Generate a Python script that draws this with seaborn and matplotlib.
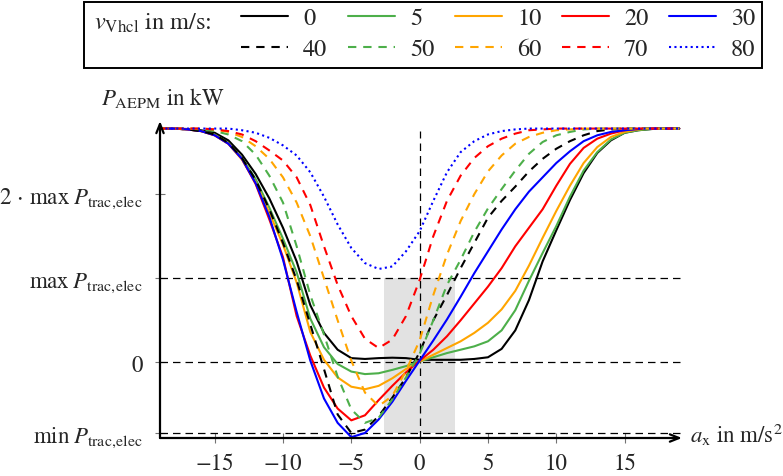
import numpy as np
import pandas as pd
import matplotlib
matplotlib.use("Agg")
import matplotlib.pyplot as plt
import seaborn as sns
from matplotlib.lines import Line2D
from matplotlib.patches import Rectangle

# ---------------- data ----------------
a_x = list(range(-19, 20))  # longitudinal acceleration in m/s^2
speeds = [0, 5, 10, 20, 30, 40, 50, 60, 70, 80]  # v_Vhcl in m/s

# normalised: max P_trac,elec = 1
P_MAX = 1.0
P_MIN = -0.845
shade_x = [-2.6, 2.6]

P_v0 = [2.78, 2.78, 2.775, 2.76, 2.73, 2.64, 2.47, 2.24, 1.95, 1.6, 1.2, 0.68, 0.35, 0.15, 0.05, 0.04, 0.05, 0.055, 0.05,
        0.03,
        0.03, 0.03, 0.03, 0.04, 0.06, 0.16, 0.38, 0.74, 1.2, 1.57, 1.93, 2.25, 2.49, 2.64, 2.73, 2.76, 2.775, 2.78, 2.78]
P_v5 = [2.78, 2.78, 2.77, 2.75, 2.71, 2.61, 2.43, 2.18, 1.84, 1.47, 1.07, 0.52, 0.18, -0.02, -0.11, -0.14, -0.13, -0.09, -0.045,
        0.01,
        0.06, 0.11, 0.15, 0.19, 0.25, 0.38, 0.62, 0.97, 1.3, 1.62, 1.97, 2.28, 2.5, 2.65, 2.73, 2.76, 2.775, 2.78, 2.78]
P_v10 = [2.78, 2.78, 2.77, 2.75, 2.7, 2.6, 2.41, 2.14, 1.78, 1.4, 0.95, 0.36, 0.03, -0.18, -0.29, -0.32, -0.28, -0.19, -0.08,
         0.01,
         0.09, 0.17, 0.25, 0.35, 0.47, 0.63, 0.85, 1.15, 1.48, 1.8, 2.1, 2.37, 2.56, 2.68, 2.74, 2.77, 2.78, 2.78, 2.78]
P_v20 = [2.78, 2.78, 2.77, 2.75, 2.7, 2.6, 2.42, 2.12, 1.7, 1.25, 0.55, 0.08, -0.3, -0.55, -0.69, -0.63, -0.45, -0.28, -0.12,
         0.02,
         0.15, 0.31, 0.5, 0.7, 0.9, 1.12, 1.38, 1.6, 1.82, 2.1, 2.36, 2.55, 2.66, 2.72, 2.76, 2.775, 2.78, 2.78, 2.78]
P_v30 = [2.78, 2.78, 2.77, 2.75, 2.7, 2.6, 2.42, 2.13, 1.73, 1.22, 0.6, 0.02, -0.43, -0.72, -0.89, -0.84, -0.68, -0.47, -0.22,
         0.02,
         0.26, 0.51, 0.78, 1.06, 1.32, 1.58, 1.82, 2.03, 2.2, 2.37, 2.51, 2.63, 2.7, 2.74, 2.76, 2.775, 2.78, 2.78, 2.78]
P_v40 = [2.78, 2.78, 2.77, 2.75, 2.71, 2.61, 2.43, 2.17, 1.82, 1.42, 0.98, 0.45, -0.08, -0.62, -0.84, -0.8, -0.64, -0.42, -0.18,
         0.12,
         0.5, 0.8, 1.12, 1.42, 1.72, 1.92, 2.09, 2.27, 2.42, 2.54, 2.63, 2.7, 2.75, 2.77, 2.78, 2.78, 2.78, 2.78, 2.78]
P_v50 = [2.78, 2.78, 2.78, 2.77, 2.75, 2.71, 2.63, 2.47, 2.22, 1.9, 1.38, 0.8, 0.33, -0.17, -0.56, -0.72, -0.66, -0.44, -0.18,
         0.1,
         0.5, 0.92, 1.22, 1.55, 1.83, 2.06, 2.28, 2.48, 2.62, 2.7, 2.74, 2.77, 2.78, 2.78, 2.78, 2.78, 2.78, 2.78, 2.78]
P_v60 = [2.78, 2.78, 2.78, 2.78, 2.77, 2.74, 2.68, 2.57, 2.42, 2.2, 1.9, 1.5, 1.0, 0.5, 0.02, -0.36, -0.52, -0.4, -0.1,
         0.26,
         0.8, 1.28, 1.68, 2.0, 2.27, 2.46, 2.6, 2.68, 2.73, 2.76, 2.77, 2.78, 2.78, 2.78, 2.78, 2.78, 2.78, 2.78, 2.78]
P_v70 = [2.78, 2.78, 2.78, 2.78, 2.77, 2.75, 2.71, 2.63, 2.52, 2.4, 2.2, 1.87, 1.38, 0.92, 0.55, 0.28, 0.17, 0.27, 0.55,
         0.98,
         1.5, 1.92, 2.22, 2.43, 2.57, 2.66, 2.72, 2.76, 2.77, 2.78, 2.78, 2.78, 2.78, 2.78, 2.78, 2.78, 2.78, 2.78, 2.78]
P_v80 = [2.78, 2.78, 2.78, 2.78, 2.78, 2.78, 2.76, 2.73, 2.67, 2.58, 2.46, 2.26, 1.97, 1.64, 1.36, 1.18, 1.11, 1.14, 1.32,
         1.56,
         1.92, 2.26, 2.5, 2.63, 2.71, 2.75, 2.77, 2.78, 2.78, 2.78, 2.78, 2.78, 2.78, 2.78, 2.78, 2.78, 2.78, 2.78, 2.78]

series = {0: P_v0, 5: P_v5, 10: P_v10, 20: P_v20, 30: P_v30,
          40: P_v40, 50: P_v50, 60: P_v60, 70: P_v70, 80: P_v80}

x_ticks = [-15, -10, -5, 0, 5, 10, 15]

# ---------------- styling ----------------
GREEN = "#4daf4a"
ORANGE = "#ffa500"
RED = "#ff0000"
BLUE = "#0000ff"
colors = {0: "black", 5: GREEN, 10: ORANGE, 20: RED, 30: BLUE,
          40: "black", 50: GREEN, 60: ORANGE, 70: RED, 80: BLUE}
DASH = (0, (4.0, 3.3))
DOT = (0, (1.0, 1.6))
styles = {0: "-", 5: "-", 10: "-", 20: "-", 30: "-",
          40: DASH, 50: DASH, 60: DASH, 70: DASH, 80: DOT}

sns.set_theme(style="white")
plt.rcParams["font.family"] = ["STIXGeneral", "DejaVu Serif"]
plt.rcParams["mathtext.fontset"] = "stix"
plt.rcParams["axes.unicode_minus"] = True

FS = 16.5
LFS = 17.5
W, H = 783, 477
fig = plt.figure(figsize=(W / 100, H / 100), dpi=100)
ax = fig.add_axes([160 / W, 1 - 439 / H, (682 - 160) / W, (439 - 122) / H])

df = pd.DataFrame({
    "a_x": a_x * len(speeds),
    "P": sum((series[v] for v in speeds), []),
    "v": sum(([v] * len(a_x) for v in speeds), []),
})

XMIN, XMAX = -19, 19.2
YMIN, YMAX = -0.9, 2.87

# shaded region and reference lines
ax.fill_between(shade_x, P_MIN, P_MAX, color="#e2e2e2", lw=0, zorder=0)
ax.hlines([P_MAX, 0, P_MIN], XMIN, XMAX, colors="black", lw=0.9,
          linestyles=[(0, (6, 4))], zorder=1)
ax.vlines([0], YMIN, 2.75, colors="black", lw=0.9, linestyles=[(0, (6, 4))], zorder=1)

LW = 1.5
for v in speeds:
    sub = df[df["v"] == v]
    sns.lineplot(data=sub, x="a_x", y="P", ax=ax, color=colors[v], linewidth=LW,
                 linestyle=styles[v], legend=False, errorbar=None, zorder=3)

ax.set_xlim(XMIN, XMAX)
ax.set_ylim(YMIN, YMAX)
ax.set_xlabel("")
ax.set_ylabel("")
for s in ax.spines.values():
    s.set_visible(False)

SUB = r"_{\mathrm{trac},\!\mathrm{elec}}"
ax.set_xticks(x_ticks)
ax.set_xticklabels([f"{t}".replace("-", "\u2212") for t in x_ticks], fontsize=FS)
ax.set_yticks([P_MIN, 0, P_MAX, 2 * P_MAX])
ax.set_yticklabels([r"$\min\;P" + SUB + "$", "0",
                    r"$\max\;P" + SUB + "$",
                    r"$2\,\cdot\,\max\;P" + SUB + "$"], fontsize=FS)
ax.tick_params(axis="both", direction="inout", length=7, width=0.8,
               color="0.45", pad=9, left=True, bottom=True)
ax.tick_params(axis="x", pad=7)

# axis arrows
arrow = dict(arrowstyle="->,head_length=0.55,head_width=0.22", lw=1.6, color="black",
             shrinkA=0, shrinkB=0)
ax.annotate("", xy=(1, 0), xytext=(0, 0), xycoords="axes fraction", arrowprops=arrow)
ax.annotate("", xy=(0, 1), xytext=(0, 0), xycoords="axes fraction", arrowprops=arrow)

fig.text(101 / W, 1 - 105 / H, r"$P_{\mathrm{AEPM}}$ in kW", fontsize=FS, ha="left", va="baseline")
fig.text(690 / W, 1 - 443 / H, r"$a_{\mathrm{x}}$ in m/s$^2$", fontsize=FS, ha="left", va="baseline")

# legend
order = [0, 40, 5, 50, 10, 60, 20, 70, 30, 80]
handles = [Line2D([], [], color=colors[v], lw=LW, linestyle=styles[v]) for v in order]
labels = [str(v) for v in order]
leg = fig.legend(handles, labels, ncol=5, loc="upper left",
                 bbox_to_anchor=(241 / W, 1 - 8 / H), frameon=False,
                 fontsize=LFS, handlelength=1.93, handletextpad=0.62,
                 columnspacing=0.85, labelspacing=0.37, borderpad=0, borderaxespad=0)
fig.text(94 / W, 1 - 30 / H, r"$v_{\mathrm{Vhcl}}$ in m/s:", fontsize=LFS, ha="left", va="baseline")
fig.patches.append(Rectangle((84 / W, 1 - 69 / H), 678 / W, 66 / H, transform=fig.transFigure,
                             fill=False, edgecolor="black", lw=1.4, figure=fig))

fig.savefig("out.png", dpi=100)
